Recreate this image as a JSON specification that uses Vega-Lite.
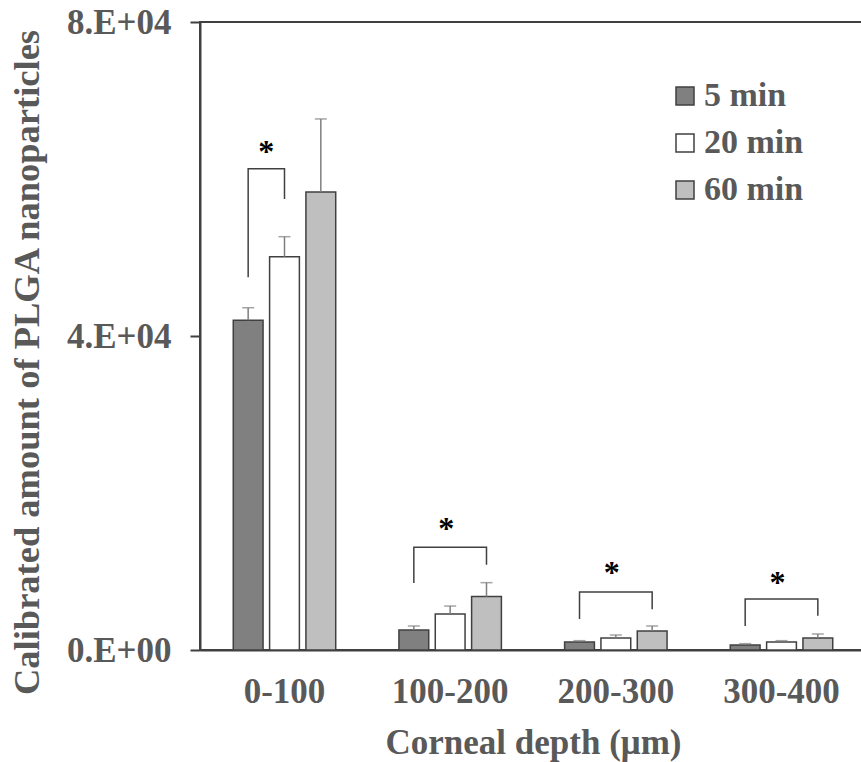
{
  "$schema": "https://vega.github.io/schema/vega-lite/v6.json",
  "width": 666,
  "height": 628,
  "autosize": {"type": "none"},
  "padding": {"left": 200, "top": 22, "right": 0, "bottom": 112},
  "background": "white",
  "config": {
    "font": "Liberation Serif",
    "view": {"stroke": "#404040", "strokeWidth": 2},
    "axis": {
      "domainColor": "#404040",
      "domainWidth": 2,
      "tickColor": "#404040",
      "tickWidth": 2,
      "grid": false,
      "labelFont": "Liberation Serif",
      "labelFontWeight": "bold",
      "labelColor": "#595959",
      "titleFont": "Liberation Serif",
      "titleFontWeight": "bold",
      "titleColor": "#595959"
    }
  },
  "datasets": {
    "bars": [
      {"depth": "0-100", "time": "5 min", "mean": 42000, "hi": 43600},
      {"depth": "0-100", "time": "20 min", "mean": 50100, "hi": 52650},
      {"depth": "0-100", "time": "60 min", "mean": 58350, "hi": 67650},
      {"depth": "100-200", "time": "5 min", "mean": 2550, "hi": 3060},
      {"depth": "100-200", "time": "20 min", "mean": 4590, "hi": 5600},
      {"depth": "100-200", "time": "60 min", "mean": 6800, "hi": 8580},
      {"depth": "200-300", "time": "5 min", "mean": 1020, "hi": 1190},
      {"depth": "200-300", "time": "20 min", "mean": 1530, "hi": 1910},
      {"depth": "200-300", "time": "60 min", "mean": 2420, "hi": 3060},
      {"depth": "300-400", "time": "5 min", "mean": 640, "hi": 810},
      {"depth": "300-400", "time": "20 min", "mean": 1020, "hi": 1190},
      {"depth": "300-400", "time": "60 min", "mean": 1530, "hi": 2040}
    ],
    "brackets": [
      {"id": "a", "depth": "0-100", "time": "5 min", "y": 47500, "seq": 1},
      {"id": "a", "depth": "0-100", "time": "5 min", "y": 61300, "seq": 2},
      {"id": "a", "depth": "0-100", "time": "20 min", "y": 61300, "seq": 3},
      {"id": "a", "depth": "0-100", "time": "20 min", "y": 57450, "seq": 4},
      {"id": "b", "depth": "100-200", "time": "5 min", "y": 8550, "seq": 1},
      {"id": "b", "depth": "100-200", "time": "5 min", "y": 13100, "seq": 2},
      {"id": "b", "depth": "100-200", "time": "60 min", "y": 13100, "seq": 3},
      {"id": "b", "depth": "100-200", "time": "60 min", "y": 10850, "seq": 4},
      {"id": "c", "depth": "200-300", "time": "5 min", "y": 3950, "seq": 1},
      {"id": "c", "depth": "200-300", "time": "5 min", "y": 7400, "seq": 2},
      {"id": "c", "depth": "200-300", "time": "60 min", "y": 7400, "seq": 3},
      {"id": "c", "depth": "200-300", "time": "60 min", "y": 5200, "seq": 4},
      {"id": "d", "depth": "300-400", "time": "5 min", "y": 3050, "seq": 1},
      {"id": "d", "depth": "300-400", "time": "5 min", "y": 6500, "seq": 2},
      {"id": "d", "depth": "300-400", "time": "60 min", "y": 6500, "seq": 3},
      {"id": "d", "depth": "300-400", "time": "60 min", "y": 4350, "seq": 4}
    ],
    "stars": [
      {"depth": "0-100", "time": "5 min", "pair": "5-20", "y": 62150},
      {"depth": "100-200", "time": "20 min", "pair": "5-60", "y": 14150},
      {"depth": "200-300", "time": "20 min", "pair": "5-60", "y": 8550},
      {"depth": "300-400", "time": "20 min", "pair": "5-60", "y": 7250}
    ]
  },
  "encoding": {
    "x": {
      "field": "depth",
      "type": "nominal",
      "sort": ["0-100", "100-200", "200-300", "300-400"],
      "scale": {"paddingInner": 0, "paddingOuter": 0.01},
      "axis": {
        "title": "Corneal depth (μm)",
        "labelAngle": 0,
        "labelFontSize": 35,
        "labelPadding": 24,
        "ticks": false,
        "titleFontSize": 35,
        "titlePadding": 16
      }
    },
    "xOffset": {
      "field": "time",
      "type": "nominal",
      "sort": ["5 min", "20 min", "60 min"],
      "scale": {"paddingInner": 0.18, "paddingOuter": 0.87}
    }
  },
  "layer": [
    {
      "data": {"name": "bars"},
      "mark": {"type": "bar", "stroke": "#404040", "strokeWidth": 1.5},
      "encoding": {
        "y": {
          "field": "mean",
          "type": "quantitative",
          "scale": {"domain": [0, 80000], "nice": false},
          "axis": {
            "title": "Calibrated amount of PLGA nanoparticles",
            "values": [0, 40000, 80000],
            "labelExpr": "datum.value == 0 ? '0.E+00' : (datum.value / 10000) + '.E+04'",
            "labelFontSize": 35,
            "labelPadding": 19,
            "tickSize": 10,
            "titleFontSize": 36.5,
            "titleX": -162,
            "titleY": 340,
            "titleAngle": -90,
            "titleAlign": "center",
            "titleBaseline": "alphabetic"
          }
        },
        "fill": {
          "field": "time",
          "type": "nominal",
          "sort": ["5 min", "20 min", "60 min"],
          "scale": {"domain": ["5 min", "20 min", "60 min"], "range": ["#808080", "#ffffff", "#bfbfbf"]},
          "legend": {
            "title": null,
            "orient": "none",
            "legendX": 468,
            "legendY": 57,
            "symbolType": "square",
            "symbolSize": 324,
            "symbolStrokeColor": "#404040",
            "symbolStrokeWidth": 1.5,
            "labelFont": "Liberation Serif",
            "labelFontWeight": "bold",
            "labelFontSize": 34,
            "labelColor": "#595959",
            "labelOffset": 2,
            "rowPadding": 13
          }
        }
      }
    },
    {
      "data": {"name": "bars"},
      "mark": {"type": "rule", "color": "#7f7f7f", "strokeWidth": 1.5},
      "encoding": {
        "y": {"field": "mean", "type": "quantitative"},
        "y2": {"field": "hi"}
      }
    },
    {
      "data": {"name": "bars"},
      "mark": {"type": "tick", "color": "#7f7f7f", "thickness": 1.5, "size": 12},
      "encoding": {
        "y": {"field": "hi", "type": "quantitative"}
      }
    },
    {
      "data": {"name": "brackets"},
      "mark": {"type": "line", "color": "#404040", "strokeWidth": 1.5},
      "encoding": {
        "y": {"field": "y", "type": "quantitative"},
        "detail": {"field": "id", "type": "nominal"},
        "order": {"field": "seq", "type": "quantitative"}
      }
    },
    {
      "data": {"name": "stars"},
      "transform": [{"filter": "datum.pair == '5-20'"}],
      "mark": {"type": "text", "text": "*", "fontSize": 32, "fontWeight": "bold", "color": "#000000", "baseline": "alphabetic", "align": "center", "dx": 18},
      "encoding": {
        "y": {"field": "y", "type": "quantitative"}
      }
    },
    {
      "data": {"name": "stars"},
      "transform": [{"filter": "datum.pair == '5-60'"}],
      "mark": {"type": "text", "text": "*", "fontSize": 32, "fontWeight": "bold", "color": "#000000", "baseline": "alphabetic", "align": "center", "dx": -4},
      "encoding": {
        "y": {"field": "y", "type": "quantitative"}
      }
    }
  ]
}
